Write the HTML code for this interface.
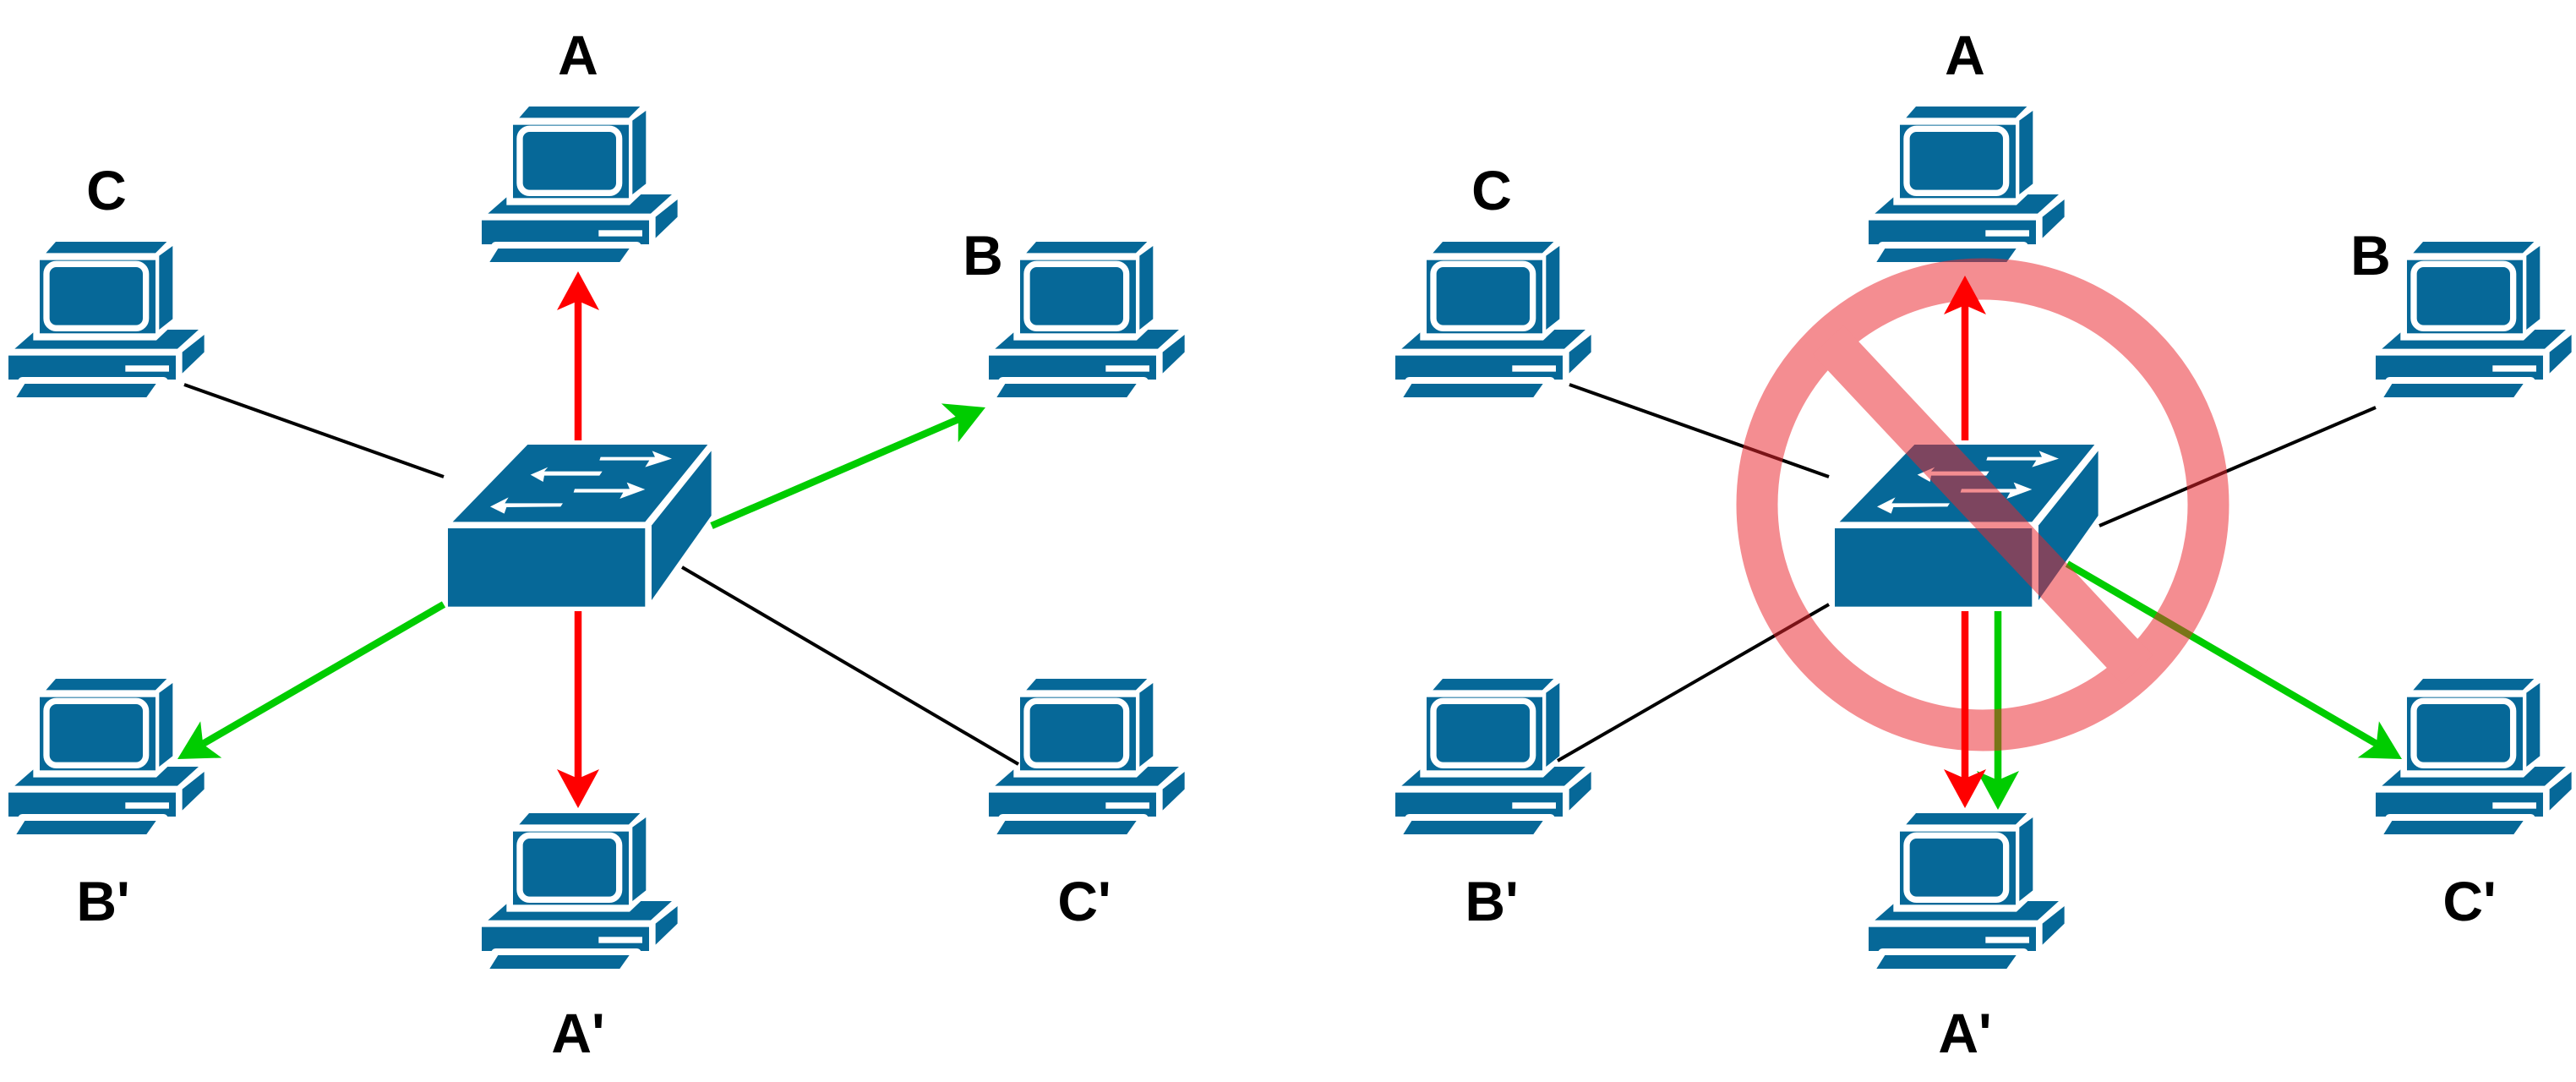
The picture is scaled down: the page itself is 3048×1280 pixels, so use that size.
<!DOCTYPE html>
<html><head><meta charset="utf-8"><style>
html,body{margin:0;padding:0;background:#fff;}
svg{display:block;}
text{font-family:"Liberation Sans",Arial,sans-serif;font-weight:bold;font-size:66px;fill:#000;text-anchor:middle;}
</style></head><body>
<svg width="3048" height="1280" viewBox="0 0 3048 1280" xmlns="http://www.w3.org/2000/svg">
<defs>
<g id="pc" fill="#066898">
<polygon points="223,118 258,78 652,78 612,118"/>
<polygon points="625,128 673,93 673,352 625,390"/>
<rect x="201" y="143" width="411" height="260"/>
<rect x="225" y="157" width="353" height="228" rx="35" fill="none" stroke="#fff" stroke-width="22"/>
<polygon points="112,458 178,400 178,428 615,428 655,390 765,390 690,458"/>
<polygon points="707,470 785,408 785,470 707,545"/>
<path d="M90,482 H684 V567 H655 Q650,558 640,558 H140 Q130,558 125,567 H90 Z"/>
<rect x="505" y="517" width="155" height="22" fill="#fff"/>
<polygon points="148,582 614,582 580,630 118,630"/>
</g>
<g id="sw">
<polygon fill="#066898" points="107,352 373,78 1012,78 790,352"/>
<rect fill="#066898" x="90" y="375" width="700" height="278"/>
<polygon fill="#066898" points="813,365 1025,100 1025,330 813,630"/>
<g fill="#fff">
<polygon points="632,122 825,122 815,100 885,128 790,158 805,134 628,134"/>
<polygon points="383,185 445,158 432,173 638,173 628,188 432,188 428,210"/>
<polygon points="540,235 735,235 725,212 790,237 700,270 712,248 536,248"/>
<polygon points="240,298 305,265 292,286 498,286 490,298 298,300 290,323"/>
</g>
</g>
<path id="ah" d="M0,0 L-46,-25 L-35,0 L-46,25 Z"/>
</defs>

<!-- LEFT -->
<g stroke-width="4" stroke="#000">
<line x1="218" y1="455" x2="525" y2="564"/>
<line x1="807" y1="671" x2="1205" y2="904"/>
</g>
<g stroke-width="8.5">
<line x1="684" y1="521" x2="684" y2="356" stroke="#ff0000"/>
<line x1="684" y1="723" x2="684" y2="921" stroke="#ff0000"/>
<line x1="842" y1="622" x2="1134" y2="496" stroke="#00cc00"/>
<line x1="525" y1="715" x2="240" y2="880" stroke="#00cc00"/>
</g>
<use href="#ah" fill="#ff0000" transform="translate(684,321) rotate(-90)"/>
<use href="#ah" fill="#ff0000" transform="translate(684,956) rotate(90)"/>
<use href="#ah" fill="#00cc00" transform="translate(1166,482) rotate(-23.4)"/>
<use href="#ah" fill="#00cc00" transform="translate(210,898) rotate(149.8)"/>
<use href="#sw" transform="translate(500,500) scale(0.3333)"/>
<use href="#pc" transform="translate(540,100) scale(0.3333)"/>
<use href="#pc" transform="translate(-20,260) scale(0.3333)"/>
<use href="#pc" transform="translate(1140,260) scale(0.3333)"/>
<use href="#pc" transform="translate(-20,777) scale(0.3333)"/>
<use href="#pc" transform="translate(540,936) scale(0.3333)"/>
<use href="#pc" transform="translate(1140,777) scale(0.3333)"/>
<text x="684" y="88">A</text>
<text x="126" y="248">C</text>
<text x="1163" y="325">B</text>
<text x="122" y="1089">B'</text>
<text x="684" y="1245">A'</text>
<text x="1283" y="1089">C'</text>

<!-- RIGHT -->
<g stroke-width="4" stroke="#000">
<line x1="1857" y1="455" x2="2164" y2="564"/>
<line x1="2811" y1="482" x2="2484" y2="622"/>
<line x1="1843" y1="900" x2="2164" y2="715"/>
</g>
<g stroke-width="8.5" stroke="#00cc00">
<line x1="2364" y1="723" x2="2364" y2="923"/>
<line x1="2446" y1="667" x2="2812" y2="880"/>
</g>
<use href="#ah" fill="#00cc00" transform="translate(2364,958) rotate(90)"/>
<use href="#ah" fill="#00cc00" transform="translate(2842,898) rotate(30.3)"/>
<use href="#sw" transform="translate(2141,500) scale(0.3333)"/>
<use href="#pc" transform="translate(2181,100) scale(0.3333)"/>
<use href="#pc" transform="translate(1621,260) scale(0.3333)"/>
<use href="#pc" transform="translate(2781,260) scale(0.3333)"/>
<use href="#pc" transform="translate(1621,777) scale(0.3333)"/>
<use href="#pc" transform="translate(2181,936) scale(0.3333)"/>
<use href="#pc" transform="translate(2781,777) scale(0.3333)"/>

<!-- prohibition sign -->
<g opacity="0.52">
<circle cx="2346" cy="597" r="267" fill="none" stroke="#ea262d" stroke-width="49"/>
<line x1="2163" y1="402" x2="2529" y2="792" stroke="#ea262d" stroke-width="50"/>
</g>

<g stroke-width="8.5" stroke="#ff0000">
<line x1="2325" y1="521" x2="2325" y2="361"/>
<line x1="2325" y1="723" x2="2325" y2="921"/>
</g>
<use href="#ah" fill="#ff0000" transform="translate(2325,326) rotate(-90)"/>
<use href="#ah" fill="#ff0000" transform="translate(2325,956) rotate(90)"/>

<text x="2325" y="88">A</text>
<text x="1765" y="248">C</text>
<text x="2805" y="325">B</text>
<text x="1765" y="1089">B'</text>
<text x="2325" y="1245">A'</text>
<text x="2922" y="1089">C'</text>
</svg>
</body></html>
